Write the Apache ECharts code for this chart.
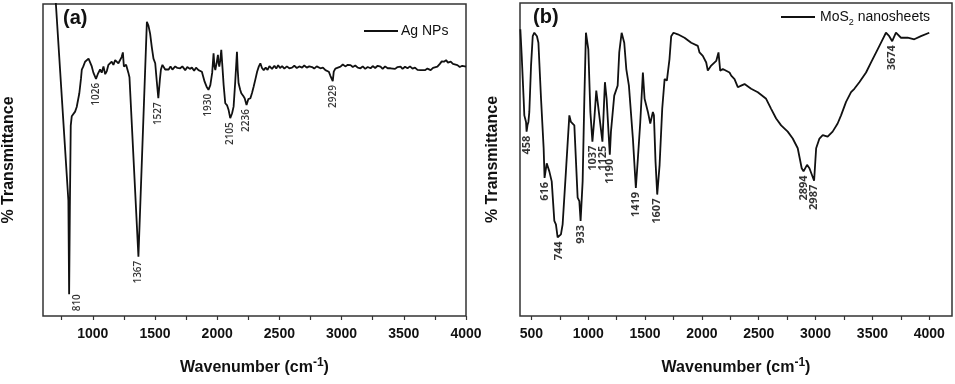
<!DOCTYPE html>
<html>
<head>
<meta charset="utf-8">
<script src="https://cdn.jsdelivr.net/npm/echarts@6/dist/echarts.min.js"></script>
<style>
  html, body { margin: 0; padding: 0; background: #fff; }
  #main { width: 955px; height: 384px; }
</style>
</head>
<body>
<div id="main"></div>
<script>
// (a) Ag NPs spectrum, wavenumber / % transmittance (arbitrary 0-100 scale)
var agWave = [702, 804, 810, 816, 823, 831, 844, 858, 871, 892, 905, 912, 924, 938, 952, 966, 978, 992, 1005,
  1026, 1040, 1059, 1072, 1086, 1100, 1113, 1126, 1139, 1152, 1166, 1180, 1193, 1206, 1220, 1232, 1242, 1250,
  1260, 1268, 1276, 1286, 1295, 1367, 1435, 1448, 1461, 1475, 1488, 1502, 1515, 1527, 1540, 1548, 1560, 1569,
  1582, 1596, 1610, 1625, 1640, 1663, 1680, 1703, 1720, 1743, 1760, 1780, 1797, 1815, 1830, 1850, 1865, 1877,
  1899, 1915, 1930, 1945, 1960, 1971, 1978, 1985, 1995, 2006, 2012, 2017, 2025, 2033, 2042, 2052, 2065, 2080,
  2092, 2105, 2120, 2132, 2145, 2159, 2165, 2172, 2185, 2194, 2210, 2221, 2236, 2250, 2267, 2280, 2293, 2308,
  2321, 2335, 2347, 2360, 2374, 2390, 2405, 2420, 2441, 2460, 2475, 2490, 2505, 2522, 2540, 2560, 2580, 2602,
  2620, 2640, 2660, 2683, 2700, 2720, 2740, 2763, 2780, 2800, 2830, 2850, 2870, 2897, 2910, 2929, 2937, 2950,
  2965, 2991, 3010, 3030, 3050, 3072, 3090, 3110, 3130, 3152, 3170, 3190, 3210, 3233, 3250, 3270, 3290, 3313,
  3330, 3350, 3370, 3394, 3410, 3430, 3450, 3474, 3490, 3510, 3530, 3550, 3570, 3590, 3610, 3635, 3650, 3670,
  3690, 3716, 3735, 3750, 3770, 3790, 3805, 3823, 3840, 3855, 3877, 3895, 3910, 3931, 3950, 3970, 4000];
var agT = [101, 37, 7, 35, 61, 64, 64, 65.5, 67, 71.4, 76, 79, 80, 81.5, 81, 82.5, 82, 80, 78,
  76, 77.5, 79, 78, 80, 77.5, 78.5, 80.5, 80, 81.5, 80.5, 82, 82.5, 81, 81, 83, 84.5, 80,
  79.5, 80.5, 80, 78, 76.5, 19, 94.3, 93, 90.5, 86, 82.5, 81, 75, 69.8, 76, 79, 80.5, 80,
  79, 79.5, 79, 80, 79, 80, 79.5, 79.4, 80, 78.8, 79.8, 79.2, 79.6, 78.6, 79.6, 78.8, 78.3, 78.3,
  75.1, 73.5, 72.5, 74, 78, 84.2, 80, 78.8, 81, 83.7, 81, 79.9, 82, 85.3, 80, 74, 68.2, 67.5,
  66, 63.4, 65, 67.1, 75, 84.7, 79, 74.6, 72.5, 71.4, 70.5, 69.8, 67.6, 69.5, 69.8, 71.5, 73.5, 76,
  78.3, 80, 81, 79.5, 78.8, 79.6, 78.9, 80.1, 79.2, 80.2, 79.3, 80.4, 79.5, 80.1, 79.3, 80, 79.4, 79.6,
  80.2, 79.5, 80, 79.6, 80.3, 79.6, 80, 79.8, 79.3, 80, 79.4, 79.6, 78.8, 78.3, 77, 75.3, 78.3, 79.3,
  79, 79.9, 80.6, 80, 80.5, 80.4, 79.8, 80.3, 79.6, 79.4, 80, 79.2, 79.8, 79.4, 80.1, 79.5, 80.2, 79.9,
  79.2, 80, 79.4, 79.4, 80, 79.2, 79.8, 79.9, 79.2, 79.9, 79.4, 80, 79.3, 79.6, 78.9, 78.8, 79.4, 78.8,
  79.3, 78.8, 79.5, 79.3, 79.9, 80.8, 81.6, 81.5, 82, 81.2, 81.5, 80.8, 81, 80.4, 79.8, 80.2, 79.9];
var agPeaks = [810, 1026, 1367, 1527, 1930, 2105, 2236, 2929];
var agPeakT = [7, 76, 19, 69.8, 72.5, 63.4, 67.6, 75.3];

// (b) MoS2 nanosheets spectrum
var mosWave = [403, 415, 432, 438, 453, 458, 466, 474, 482, 497, 512, 526, 549, 562, 585, 608, 616, 635, 658,
  679, 702, 716, 731, 744, 760, 775, 804, 834, 848, 863, 878, 907, 922, 933, 951, 966, 980, 989, 1001, 1019,
  1037, 1054, 1071, 1083, 1094, 1125, 1147, 1162, 1190, 1200, 1229, 1259, 1273, 1294, 1300, 1317, 1335, 1358,
  1393, 1419, 1437, 1458, 1481, 1496, 1525, 1546, 1569, 1578, 1592, 1607, 1628, 1651, 1672, 1692, 1715, 1730,
  1750, 1788, 1847, 1906, 1964, 1979, 2008, 2038, 2052, 2082, 2126, 2146, 2161, 2184, 2199, 2243, 2258, 2287,
  2316, 2345, 2375, 2433, 2492, 2565, 2609, 2653, 2697, 2755, 2799, 2843, 2878, 2894, 2925, 2946, 2987, 3005,
  3034, 3063, 3106, 3150, 3194, 3224, 3268, 3312, 3341, 3385, 3444, 3488, 3546, 3590, 3619, 3648, 3674, 3707,
  3751, 3810, 3868, 3927, 4000];
var mosT = [91.6, 83.1, 69.4, 64.1, 62, 58.9, 61, 62, 65.2, 79.9, 89.4, 90.5, 89.4, 87.3, 69.4, 53.6, 44.1, 48.8, 46.2,
  43, 30.4, 29.3, 25.1, 25.6, 26.1, 29.3, 46.2, 64.1, 62, 62.5, 60.9, 37.8, 36.7, 30.4, 43, 69.4, 90.5, 91, 85.2, 65.2,
  55.7, 63.1, 72, 68.4, 68.9, 55.7, 74.7, 69.4, 51.5, 58.9, 70.4, 73.6, 84.2, 90.5, 91, 87.3, 78.9, 73.6,
  56.7, 40.9, 50.4, 62, 77.8, 69.4, 65.2, 61.5, 65.2, 64.1, 49.4, 38.8, 48.3, 66.2, 75.7, 75.2, 82.1, 89.4,
  90.5, 90, 88.9, 87.3, 86.3, 84.2, 83.1, 81, 78.4, 80, 81.5, 84.2, 78.4, 78.9, 79.4, 77.8, 76.8, 75.7,
  73.1, 73.6, 74.1, 72.6, 71.5, 69.4, 66.2, 63.1, 60.9, 58.9, 56.7, 53.6, 47.2, 46.2, 48.3, 47.2, 43.2, 53.6,
  56.7, 57.8, 57.3, 58.9, 61.5, 64.1, 68.4, 71.5, 72.6, 74.7, 77.8, 81, 85.2, 88.4, 90.5, 89.4, 87.8, 90.5,
  88.9, 88.9, 88.4, 89.4, 90.5];
var mosPeaks = [458, 616, 744, 933, 1037, 1125, 1190, 1419, 1607, 2894, 2987, 3674];
var mosPeakT = [58.9, 44.1, 25.1, 30.4, 55.7, 55.7, 51.5, 40.9, 38.8, 46.2, 43.2, 87.8];

// 刻度
var agTicks = [750, 1000, 1250, 1500, 1750, 2000, 2250, 2500, 2750, 3000, 3250, 3500, 3750, 4000];
var agTickLabels = [1000, 1500, 2000, 2500, 3000, 3500, 4000];
var mosTicks = [500, 750, 1000, 1250, 1500, 1750, 2000, 2250, 2500, 2750, 3000, 3250, 3500, 3750, 4000];
var mosTickLabels = [500, 1000, 1500, 2000, 2500, 3000, 3500, 4000];

function pairs(xs, ys) {
  var out = [];
  for (var i = 0; i < xs.length; i++) out.push([xs[i], ys[i]]);
  return out;
}

var FONT = '"Liberation Sans", Arial, sans-serif';

function makeX(idx, min, max, ticks, labels) {
  return {
    type: 'value', gridIndex: idx, min: min, max: max,
    axisLine: { show: false },
    splitLine: { show: false },
    axisTick: { show: true, customValues: ticks, length: 4, lineStyle: { color: '#333', width: 1.2 } },
    axisLabel: {
      customValues: labels, margin: 11, color: '#111', fontFamily: FONT, fontWeight: 'bold', fontSize: 14,
      formatter: function (v) { return String(v); }
    },
    name: 'Wavenumber (cm{sup|-1})',
    nameLocation: 'middle', nameGap: 52,
    nameTextStyle: {
      color: '#111', fontFamily: FONT, fontWeight: 'bold', fontSize: 16, lineHeight: 22, verticalAlign: 'middle',
      rich: { sup: { fontFamily: FONT, fontWeight: 'bold', fontSize: 12, lineHeight: 12, verticalAlign: 'top', color: '#111' } }
    }
  };
}

function makeY(idx, gap) {
  return {
    type: 'value', gridIndex: idx, min: 0, max: 100,
    axisLine: { show: false }, axisTick: { show: false }, axisLabel: { show: false }, splitLine: { show: false },
    name: '% Transmittance', nameLocation: 'middle', nameGap: gap,
    nameTextStyle: { color: '#111', fontFamily: FONT, fontWeight: 'bold', fontSize: 16 }
  };
}

function peakSeries(idx, xs, ys, style) {
  var data = pairs(xs, ys).map(function (d, i) {
    // 最深的峰标签放在谱线右侧
    if (style.sideFirst && i === 0) {
      return { value: d, label: { position: 'right', distance: 8 } };
    }
    return d;
  });
  return {
    type: 'scatter', xAxisIndex: idx, yAxisIndex: idx, symbolSize: 0, silent: true,
    data: data,
    label: {
      show: true, position: 'bottom', distance: 4, rotate: 90, align: 'right', verticalAlign: 'middle',
      formatter: function (p) { return String(p.value[0]); },
      color: '#000', fontFamily: '"Open Sans", sans-serif', fontSize: style.size, fontWeight: style.weight
    }
  };
}

var chart = echarts.init(document.getElementById('main'), null, { renderer: 'canvas' });

var option = {
  animation: false,
  backgroundColor: '#fff',
  title: [
    { text: '(a)', left: 58, top: 3, textStyle: { fontFamily: FONT, fontWeight: 'bold', fontSize: 20, color: '#111' } },
    { text: '(b)', left: 528, top: 2, textStyle: { fontFamily: FONT, fontWeight: 'bold', fontSize: 20, color: '#111' } }
  ],
  legend: [
    {
      data: ['Ag NPs'], left: 359, top: 19, icon: 'rect', itemWidth: 34, itemHeight: 2, itemGap: 0,
      textStyle: { fontFamily: FONT, fontSize: 14, color: '#111', padding: [0, 0, 0, -2] }
    },
    {
      data: ['MoS2 nanosheets'], left: 776, top: 2, icon: 'rect', itemWidth: 34, itemHeight: 2, itemGap: 0,
      formatter: function () { return 'MoS{sub|2} nanosheets'; },
      textStyle: {
        fontFamily: FONT, fontSize: 14, color: '#111', lineHeight: 20, verticalAlign: 'middle',
        rich: { sub: { fontFamily: FONT, fontSize: 9, lineHeight: 9, verticalAlign: 'bottom', color: '#111' } }
      }
    }
  ],
  grid: [
    { left: 43, top: 4, width: 423, height: 312, show: true, borderColor: '#333', borderWidth: 1.5, backgroundColor: 'transparent' },
    { left: 520, top: 3, width: 432, height: 316, show: true, borderColor: '#333', borderWidth: 1.5, backgroundColor: 'transparent' }
  ],
  xAxis: [
    makeX(0, 600, 4000, agTicks, agTickLabels),
    makeX(1, 400, 4200, mosTicks, mosTickLabels)
  ],
  yAxis: [makeY(0, 26), makeY(1, 19)],
  series: [
    {
      name: 'Ag NPs', type: 'line', xAxisIndex: 0, yAxisIndex: 0, showSymbol: false, clip: true,
      data: pairs(agWave, agT), color: '#111', lineStyle: { color: '#111', width: 1.8 }
    },
    {
      name: 'MoS2 nanosheets', type: 'line', xAxisIndex: 1, yAxisIndex: 1, showSymbol: false, clip: true,
      data: pairs(mosWave, mosT), color: '#111', lineStyle: { color: '#111', width: 1.8 }
    },
    peakSeries(0, agPeaks, agPeakT, { size: 10, weight: 600, sideFirst: true }),
    peakSeries(1, mosPeaks, mosPeakT, { size: 11, weight: 'bold' })
  ]
};

chart.setOption(option);
</script>
</body>
</html>
